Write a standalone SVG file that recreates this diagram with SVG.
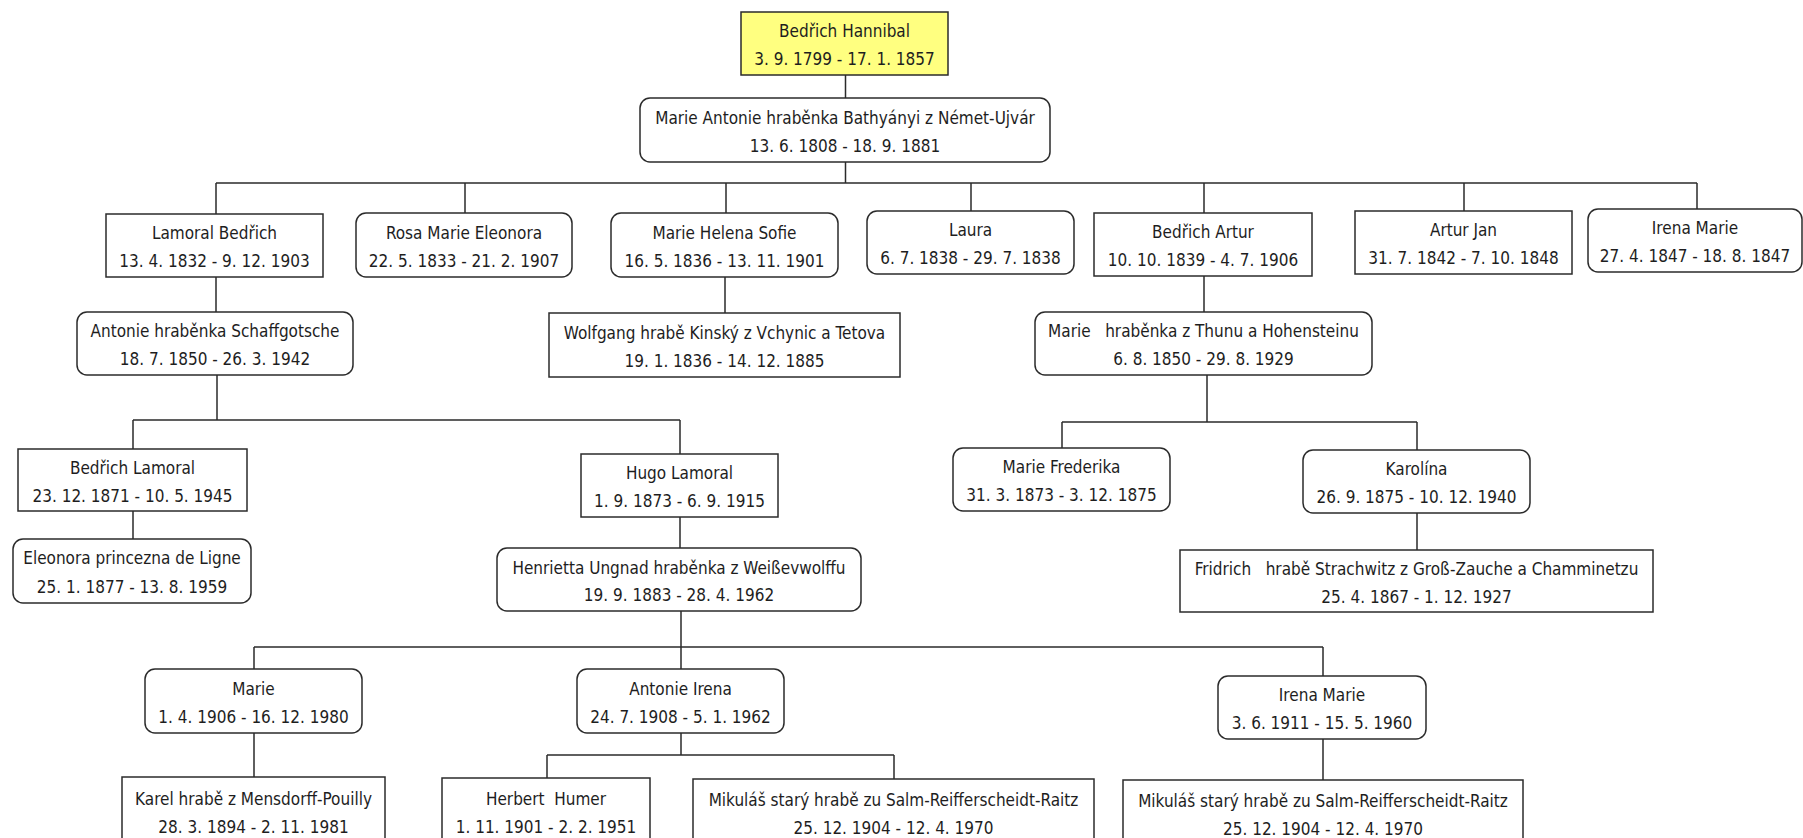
<svg xmlns="http://www.w3.org/2000/svg" width="1803" height="838" viewBox="0 0 1803 838">
<style>
.b{fill:#fff;stroke:#2b2b2b;stroke-width:1.5}
.y{fill:#ffff80;stroke:#2b2b2b;stroke-width:1.5}
text{font-family:"DejaVu Sans Condensed","DejaVu Sans","Liberation Sans",sans-serif;font-size:17px;fill:#1e1e1e;text-anchor:middle;white-space:pre}
#conn path{fill:none;stroke:#2b2b2b;stroke-width:1.5}
</style>
<rect width="1803" height="838" fill="#fff"/>
<g id="conn">
<path d="M845.5 75V98M845.5 162V183M216 183H1697M216 183V214M465 183V213M726 183V213M971 183V211M1204 183V213M1464 183V211M1697 183V209"/>
<path d="M216 277V312M725 277V313M1204 276V312"/>
<path d="M217 375V420M133 420H680M133 420V449M680 420V454"/>
<path d="M1207 375V422M1062 422H1417M1062 422V448M1417 422V450"/>
<path d="M133 511V539M680 517V548M1417 513V550"/>
<path d="M681 611V647M254 647H1323M254 647V669M681 647V669M1323 647V676"/>
<path d="M254 733V777M681 733V755M547 755H894M547 755V778M894 755V779M1323 739V780"/>
</g>
<g id="n1"><rect class="y" x="741" y="12" width="207" height="63"/><text x="844.5" y="37">Bedřich Hannibal</text><text x="844.5" y="65">3. 9. 1799 - 17. 1. 1857</text></g>
<g id="n2"><rect class="b" x="640" y="98" width="410" height="64" rx="10"/><text x="845" y="124">Marie Antonie hraběnka Bathyányi z Német-Ujvár</text><text x="845" y="152">13. 6. 1808 - 18. 9. 1881</text></g>
<g id="n3"><rect class="b" x="106" y="214" width="217" height="63"/><text x="214.5" y="239">Lamoral Bedřich</text><text x="214.5" y="267">13. 4. 1832 - 9. 12. 1903</text></g>
<g id="n4"><rect class="b" x="356" y="213" width="216" height="64" rx="10"/><text x="464" y="239">Rosa Marie Eleonora</text><text x="464" y="267">22. 5. 1833 - 21. 2. 1907</text></g>
<g id="n5"><rect class="b" x="611" y="213" width="227" height="64" rx="10"/><text x="724.5" y="239">Marie Helena Sofie</text><text x="724.5" y="267">16. 5. 1836 - 13. 11. 1901</text></g>
<g id="n6"><rect class="b" x="867" y="211" width="207" height="63" rx="10"/><text x="970.5" y="236">Laura</text><text x="970.5" y="264">6. 7. 1838 - 29. 7. 1838</text></g>
<g id="n7"><rect class="b" x="1094" y="213" width="218" height="63"/><text x="1203" y="238">Bedřich Artur</text><text x="1203" y="266">10. 10. 1839 - 4. 7. 1906</text></g>
<g id="n8"><rect class="b" x="1355" y="211" width="217" height="63"/><text x="1463.5" y="236">Artur Jan</text><text x="1463.5" y="264">31. 7. 1842 - 7. 10. 1848</text></g>
<g id="n9"><rect class="b" x="1588" y="209" width="214" height="63" rx="10"/><text x="1695" y="234">Irena Marie</text><text x="1695" y="262">27. 4. 1847 - 18. 8. 1847</text></g>
<g id="n10"><rect class="b" x="77" y="312" width="276" height="63" rx="10"/><text x="215" y="337">Antonie hraběnka Schaffgotsche</text><text x="215" y="365">18. 7. 1850 - 26. 3. 1942</text></g>
<g id="n11"><rect class="b" x="549" y="313" width="351" height="64"/><text x="724.5" y="339">Wolfgang hrabě Kinský z Vchynic a Tetova</text><text x="724.5" y="367">19. 1. 1836 - 14. 12. 1885</text></g>
<g id="n12"><rect class="b" x="1035" y="312" width="337" height="63" rx="10"/><text x="1203.5" y="337">Marie   hraběnka z Thunu a Hohensteinu</text><text x="1203.5" y="365">6. 8. 1850 - 29. 8. 1929</text></g>
<g id="n13"><rect class="b" x="18" y="449" width="229" height="62"/><text x="132.5" y="474">Bedřich Lamoral</text><text x="132.5" y="502">23. 12. 1871 - 10. 5. 1945</text></g>
<g id="n14"><rect class="b" x="581" y="454" width="197" height="63"/><text x="679.5" y="479">Hugo Lamoral</text><text x="679.5" y="507">1. 9. 1873 - 6. 9. 1915</text></g>
<g id="n15"><rect class="b" x="953" y="448" width="217" height="63" rx="10"/><text x="1061.5" y="473">Marie Frederika</text><text x="1061.5" y="501">31. 3. 1873 - 3. 12. 1875</text></g>
<g id="n16"><rect class="b" x="1303" y="450" width="227" height="63" rx="10"/><text x="1416.5" y="475">Karolína</text><text x="1416.5" y="503">26. 9. 1875 - 10. 12. 1940</text></g>
<g id="n17"><rect class="b" x="13" y="539" width="238" height="64" rx="10"/><text x="132" y="564">Eleonora princezna de Ligne</text><text x="132" y="593">25. 1. 1877 - 13. 8. 1959</text></g>
<g id="n18"><rect class="b" x="497" y="548" width="364" height="63" rx="10"/><text x="679" y="574">Henrietta Ungnad hraběnka z Weißevwolffu</text><text x="679" y="601">19. 9. 1883 - 28. 4. 1962</text></g>
<g id="n19"><rect class="b" x="1180" y="550" width="473" height="62"/><text x="1416.5" y="575">Fridrich   hrabě Strachwitz z Groß-Zauche a Chamminetzu</text><text x="1416.5" y="603">25. 4. 1867 - 1. 12. 1927</text></g>
<g id="n20"><rect class="b" x="145" y="669" width="217" height="64" rx="10"/><text x="253.5" y="695">Marie</text><text x="253.5" y="723">1. 4. 1906 - 16. 12. 1980</text></g>
<g id="n21"><rect class="b" x="577" y="669" width="207" height="64" rx="10"/><text x="680.5" y="695">Antonie Irena</text><text x="680.5" y="723">24. 7. 1908 - 5. 1. 1962</text></g>
<g id="n22"><rect class="b" x="1218" y="676" width="208" height="63" rx="10"/><text x="1322" y="701">Irena Marie</text><text x="1322" y="729">3. 6. 1911 - 15. 5. 1960</text></g>
<g id="n23"><rect class="b" x="122" y="777" width="263" height="70"/><text x="253.5" y="805">Karel hrabě z Mensdorff-Pouilly</text><text x="253.5" y="833">28. 3. 1894 - 2. 11. 1981</text></g>
<g id="n24"><rect class="b" x="442" y="778" width="208" height="70"/><text x="546" y="805">Herbert  Humer</text><text x="546" y="833">1. 11. 1901 - 2. 2. 1951</text></g>
<g id="n25"><rect class="b" x="693" y="779" width="401" height="70"/><text x="893.5" y="806">Mikuláš starý hrabě zu Salm-Reifferscheidt-Raitz</text><text x="893.5" y="834">25. 12. 1904 - 12. 4. 1970</text></g>
<g id="n26"><rect class="b" x="1123" y="780" width="400" height="70"/><text x="1323" y="807">Mikuláš starý hrabě zu Salm-Reifferscheidt-Raitz</text><text x="1323" y="835">25. 12. 1904 - 12. 4. 1970</text></g>
</svg>
